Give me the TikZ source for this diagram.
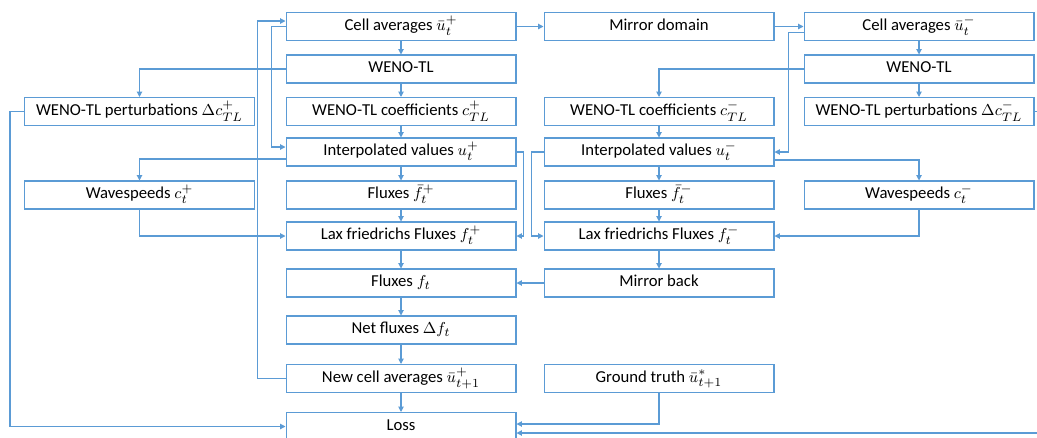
\documentclass[tikz,border=0pt]{standalone}
\usepackage{fontspec}
\setmainfont{Carlito}
\usepackage{amsmath}
\usetikzlibrary{arrows.meta, positioning, calc}
\definecolor{lineblue}{RGB}{91,155,213}

\begin{document}
\begin{tikzpicture}[x=0.02cm, y=-0.02cm,
  box/.style={draw=lineblue, line width=0.6pt, minimum width=4.6cm, minimum height=0.56cm,
    inner sep=0pt, text height=7pt, text depth=2.5pt, font=\fontsize{9.5}{11}\selectfont},
  arr/.style={draw=lineblue, line width=0.6pt, -{Triangle[length=3pt,width=3pt]}}]
\useasboundingbox (0,0) rectangle (1037,437);

% Plus branch
\node[box] (cellp) at (401,26.5) {Cell averages $\bar{u}_t^+$};
\node[box] (wenop) at (401,69) {WENO-TL};
\node[box] (coefp) at (401,111.5) {WENO-TL coefficients $c_{TL}^+$};
\node[box] (interp) at (401,152) {Interpolated values $u_t^+$};
\node[box] (fbarp) at (401,195) {Fluxes $\bar{f}_t^+$};
\node[box] (laxp) at (401,236) {Lax friedrichs Fluxes $f_t^+$};
\node[box] (fluxp) at (401,283) {Fluxes $f_t$};
\node[box] (netp) at (401,330) {Net fluxes $\Delta f_t$};
\node[box] (newp) at (401,378.5) {New cell averages $\bar{u}_{t+1}^+$};
\node[box] (loss) at (401,426.5) {Loss};

% Plus side boxes
\node[box] (pertp) at (139.5,111.5) {WENO-TL perturbations $\Delta c_{TL}^+$};
\node[box] (wavep) at (139.5,195) {Wavespeeds $c_t^+$};

% Mirror column
\node[box] (mirror) at (659,26.5) {Mirror domain};
\node[box] (coefm) at (659,111.5) {WENO-TL coefficients $c_{TL}^-$};
\node[box] (interm) at (659,152) {Interpolated values $u_t^-$};
\node[box] (fbarm) at (659,195) {Fluxes $\bar{f}_t^-$};
\node[box] (laxm) at (659,236) {Lax friedrichs Fluxes $f_t^-$};
\node[box] (mirrorb) at (659,283) {Mirror back};
\node[box] (truth) at (659,378.5) {Ground truth $\bar{u}_{t+1}^*$};

% Minus branch
\node[box] (cellm) at (919,26.5) {Cell averages $\bar{u}_t^-$};
\node[box] (wenom) at (919,69) {WENO-TL};
\node[box] (pertm) at (919,111.5) {WENO-TL perturbations $\Delta c_{TL}^-$};
\node[box] (wavem) at (919,195) {Wavespeeds $c_t^-$};

% Main chain
\draw[arr] (cellp) -- (wenop);
\draw[arr] (wenop) -- (coefp);
\draw[arr] (coefp) -- (interp);
\draw[arr] (interp) -- (fbarp);
\draw[arr] (fbarp) -- (laxp);
\draw[arr] (laxp) -- (fluxp);
\draw[arr] (fluxp) -- (netp);
\draw[arr] (netp) -- (newp);
\draw[arr] (newp) -- (loss);

% Plus side connectors
\draw[arr] (wenop.west) -| (pertp.north);
\draw[arr] ([yshift=-0.14cm]interp.west) -| (wavep.north);
\draw[arr] (wavep.south) |- (laxp.west);
\draw[arr] (interp.east) -- ++(7,0) |- (laxp.east);
\draw[arr] (pertp.west) -- ++(-14,0) |- (loss.west);
\draw[arr] (newp.west) -- ++(-28,0) |- ([yshift=0.11cm]cellp.west);
\draw[arr] (cellp.west) -- ++(-14,0) |- ([yshift=0.1cm]interp.west);

% Mirror
\draw[arr] (cellp) -- (mirror);
\draw[arr] (mirror) -- (cellm);
\draw[arr] (cellm) -- (wenom);
\draw[arr] (wenom) -- (pertm);
\draw[arr] (wenom.west) -| (coefm.north);
\draw[arr] (coefm) -- (interm);
\draw[arr] ([yshift=-0.12cm]cellm.west) -- ++(-15,0) |- (interm.east);
\draw[arr] ([yshift=-0.16cm]interm.east) -| (wavem.north);
\draw[arr] (wavem.south) |- (laxm.east);
\draw[arr] (interm.west) -- ++(-12,0) |- (laxm.west);
\draw[arr] (interm) -- (fbarm);
\draw[arr] (fbarm) -- (laxm);
\draw[arr] (laxm) -- (mirrorb);
\draw[arr] (mirrorb) -- (fluxp);

% Loss inputs
\draw[arr] (truth.south) |- ([yshift=0.05cm]loss.east);
\draw[arr] (pertm.east) -- ++(12,0) |- ([yshift=-0.13cm]loss.east);
\end{tikzpicture}
\end{document}
